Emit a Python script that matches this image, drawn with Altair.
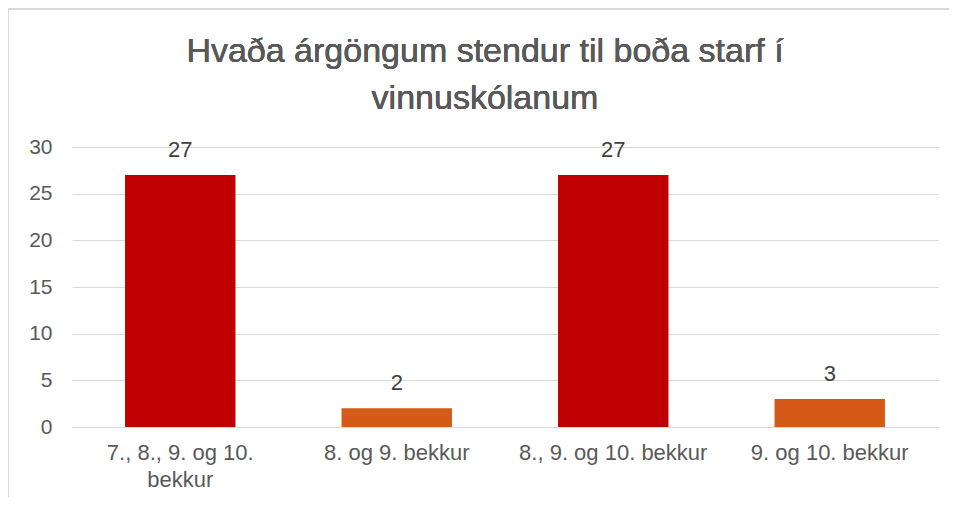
import altair as alt
import pandas as pd

categories = ["7., 8., 9. og 10. bekkur", "8. og 9. bekkur", "8., 9. og 10. bekkur", "9. og 10. bekkur"]
values = [27, 2, 27, 3]
colors = ["#C00000", "#D55A18", "#C00000", "#D55A18"]
title_lines = ["Hvaða árgöngum stendur til boða starf í", "vinnuskólanum"]

df = pd.DataFrame({"cat": categories, "val": values, "color": colors})

label_expr = ("datum.value == '7., 8., 9. og 10. bekkur' ? ['7., 8., 9. og 10.', 'bekkur'] : datum.value")

base = alt.Chart(df).encode(
    x=alt.X("cat:N", sort=categories, title=None,
            scale=alt.Scale(paddingInner=0.49, paddingOuter=0.245),
            axis=alt.Axis(labelAngle=0, labelFontSize=22, labelColor="#595959",
                          labelFont="Liberation Sans", ticks=False, domain=False,
                          labelPadding=15, labelExpr=label_expr, labelLineHeight=27,
                          labelLimit=400)),
)

bars = base.mark_bar().encode(
    y=alt.Y("val:Q", title=None,
            scale=alt.Scale(domain=[0, 30]),
            axis=alt.Axis(values=[0, 5, 10, 15, 20, 25, 30], labelFontSize=21,
                          labelColor="#595959", labelFont="Liberation Sans",
                          ticks=False, domain=False, labelPadding=20,
                          gridColor="#D9D9D9", gridWidth=1)),
    color=alt.Color("color:N", scale=None),
)

text = base.mark_text(dy=-25, fontSize=22, color="#404040", font="Liberation Sans").encode(
    y=alt.Y("val:Q"),
    text=alt.Text("val:Q"),
)

title1 = alt.Chart(df).mark_text(fontSize=34, color="#595959", font="Liberation Sans",
                                 fontWeight="normal", baseline="alphabetic", align="center").encode(
    x=alt.value(413), y=alt.value(-85), text=alt.value(title_lines[0]))
title2 = alt.Chart(df).mark_text(fontSize=34, color="#595959", font="Liberation Sans",
                                 fontWeight="normal", baseline="alphabetic", align="center").encode(
    x=alt.value(413), y=alt.value(-38), text=alt.value(title_lines[1]))

border_left = alt.Chart(df).mark_rule(color="#D9D9D9", strokeWidth=2).encode(
    x=alt.value(-64), y=alt.value(-138), y2=alt.value(360))
border_top = alt.Chart(df).mark_rule(color="#D9D9D9", strokeWidth=2).encode(
    x=alt.value(-64), x2=alt.value(900), y=alt.value(-138))

chart = alt.layer(bars, text, title1, title2, border_left, border_top).properties(
    width=866, height=280,
    autosize=alt.AutoSizeParams(type="none"),
    padding={"left": 64, "top": 139, "right": 11, "bottom": 70},
).configure(background="white").configure_view(stroke=None)

chart.save("out.html", embed_options={"renderer": "svg", "actions": False})
